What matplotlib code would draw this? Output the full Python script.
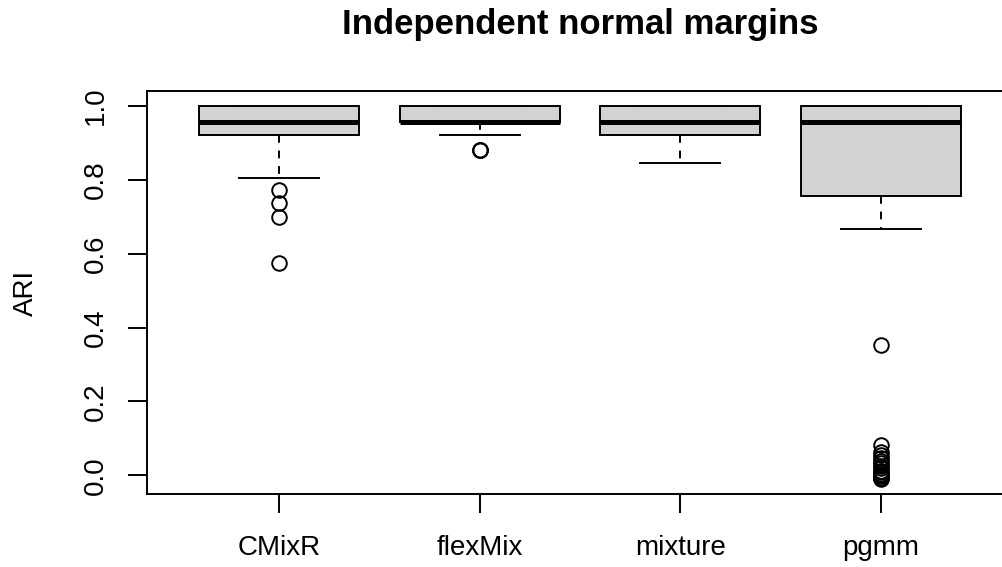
import numpy as np
import matplotlib
matplotlib.use("Agg")
import matplotlib.pyplot as plt

plt.rcParams['font.family'] = ['Liberation Sans', 'DejaVu Sans']

# box statistics (ARI)
methods = ["CMixR", "flexMix", "mixture", "pgmm"]
q1 = [0.920, 0.957, 0.920, 0.756]
med = [0.957, 0.957, 0.957, 0.957]
q3 = [1.0, 1.0, 1.0, 1.0]
whislo = [0.806, 0.920, 0.845, 0.668]
whishi = [1.0, 1.0, 1.0, 1.0]
fliers_cmixr = [0.772, 0.737, 0.699, 0.575]
fliers_flexmix = [0.881, 0.881, 0.880]
fliers_mixture = []
fliers_pgmm = [0.352, 0.081, 0.062, 0.055, 0.046, 0.040, 0.033, 0.025, 0.019, 0.012,
               0.008, 0.004, 0.0, -0.003, -0.006, -0.008, -0.010]
fliers = [fliers_cmixr, fliers_flexmix, fliers_mixture, fliers_pgmm]

stats = []
for i in range(len(methods)):
    stats.append(dict(label=methods[i], q1=q1[i], med=med[i], q3=q3[i],
                      whislo=whislo[i], whishi=whishi[i], fliers=fliers[i]))

fig = plt.figure(figsize=(10.03, 5.67), dpi=100)
W, H = 1003., 567.
ax = fig.add_axes([147/W, 1-494/H, (1013-147)/W, (494-91)/H])

lw = 1.4
ax.bxp(stats, positions=np.arange(1, len(methods)+1), widths=0.8, capwidths=0.4,
       patch_artist=True,
       boxprops=dict(facecolor='#d3d3d3', edgecolor='black', linewidth=lw),
       medianprops=dict(color='black', linewidth=3.6, solid_capstyle='butt'),
       whiskerprops=dict(color='black', linewidth=lw, linestyle=(0, (4, 4))),
       capprops=dict(color='black', linewidth=lw),
       flierprops=dict(marker='o', markerfacecolor='none', markeredgecolor='black',
                       markersize=10.5, markeredgewidth=1.4))

# R-style 4% padding on both axes
allv = [v for f in fliers for v in f] + whislo + whishi
lo, hi = min(allv), max(allv)
pad = 0.04 * (hi - lo)
ax.set_ylim(lo - pad, hi + pad)
n = len(methods)
ax.set_xlim(0.5 - 0.04*n, n + 0.5 + 0.04*n)

ax.set_yticks([0.0, 0.2, 0.4, 0.6, 0.8, 1.0])
ax.set_yticklabels(["0.0", "0.2", "0.4", "0.6", "0.8", "1.0"], rotation=90, va='center')
ax.set_xticks(np.arange(1, n+1))
ax.set_xticklabels(methods)
ax.tick_params(axis='both', length=13.5, width=lw, labelsize=20, color='black')
ax.tick_params(axis='y', pad=14)
ax.tick_params(axis='x', pad=16)
for s in ax.spines.values():
    s.set_linewidth(lw)

fig.text(26/W, 1-292.5/H, "ARI", rotation=90, ha='center', va='center', fontsize=20)
fig.text(580/W, 1-34/H, "Independent normal margins", ha='center', va='baseline',
         fontsize=25, fontweight='bold')

fig.savefig("out.png", dpi=100)
